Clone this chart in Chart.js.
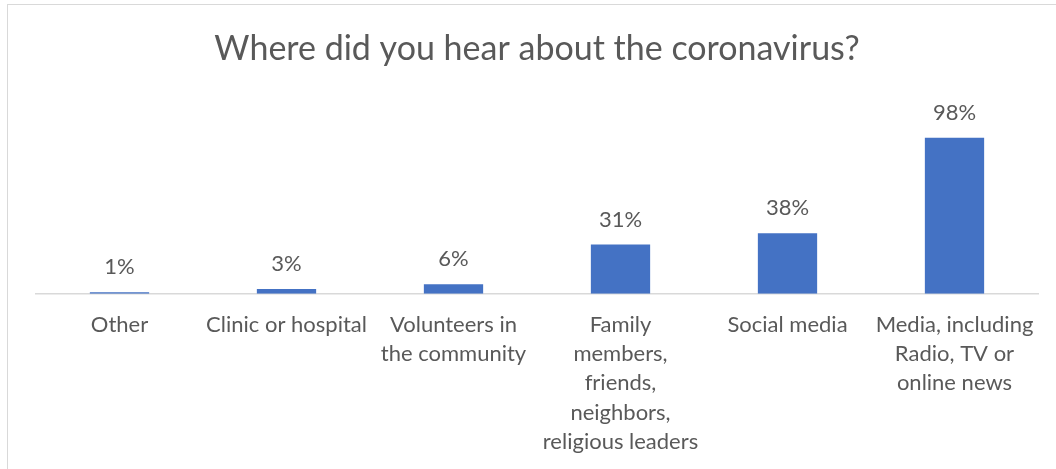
<!DOCTYPE html>
<html>
<head>
<meta charset="utf-8">
<script src="https://cdn.jsdelivr.net/npm/chart.js@4/dist/chart.umd.min.js"></script>
<style>
  html, body { margin: 0; padding: 0; background: #fff; overflow: hidden; }
  #frame { position: absolute; left: 7px; top: 4px; width: 1100px; height: 500px; border: 1px solid #d9d9d9; box-sizing: border-box; }
  #wrap { position: absolute; left: 0; top: 0; width: 1056px; height: 469px; }
</style>
</head>
<body>
<div id="frame"></div>
<div id="wrap"><canvas id="sourcesChart"></canvas></div>
<script>
const categories = [
  "Other",
  "Clinic or hospital",
  ["Volunteers in", "the community"],
  ["Family", "members,", "friends,", "neighbors,", "religious leaders"],
  "Social media",
  ["Media, including", "Radio, TV or", "online news"]
];
const shares = [1, 3, 6, 31, 38, 98];

const FONT = "Lato, 'Open Sans', sans-serif";
const TEXT = "#595959";

// percent labels above each bar
const valueLabels = {
  id: "valueLabels",
  afterDatasetsDraw(chart) {
    const ctx = chart.ctx;
    const meta = chart.getDatasetMeta(0);
    ctx.save();
    ctx.font = "22px " + FONT;
    ctx.fillStyle = TEXT;
    ctx.textAlign = "center";
    ctx.textBaseline = "middle";
    meta.data.forEach((bar, i) => {
      ctx.fillText(shares[i] + "%", bar.x, bar.y - 25);
    });
    ctx.restore();
  }
};

new Chart(document.getElementById("sourcesChart").getContext("2d"), {
  type: "bar",
  data: {
    labels: categories,
    datasets: [{
      data: shares,
      backgroundColor: "#4472c4",
      categoryPercentage: 1,
      barPercentage: 0.355
    }]
  },
  options: {
    responsive: true,
    maintainAspectRatio: false,
    animation: false,
    layout: { padding: { left: 36, right: 18, top: 0, bottom: -4 } },
    plugins: {
      legend: { display: false },
      tooltip: { enabled: false },
      title: {
        display: true,
        text: "Where did you hear about the coronavirus?",
        color: TEXT,
        font: { family: FONT, size: 34, weight: "normal", lineHeight: 1.2 },
        padding: { top: 29, bottom: 33 }
      }
    },
    scales: {
      x: {
        grid: { display: false, drawTicks: false },
        border: { display: true, color: "#d9d9d9", width: 1.5 },
        ticks: {
          color: TEXT,
          font: { family: FONT, size: 22, lineHeight: 1.32 },
          padding: 17,
          maxRotation: 0,
          autoSkip: false
        }
      },
      y: {
        display: false,
        min: 0,
        max: 120
      }
    }
  },
  plugins: [valueLabels]
});
</script>
</body>
</html>
